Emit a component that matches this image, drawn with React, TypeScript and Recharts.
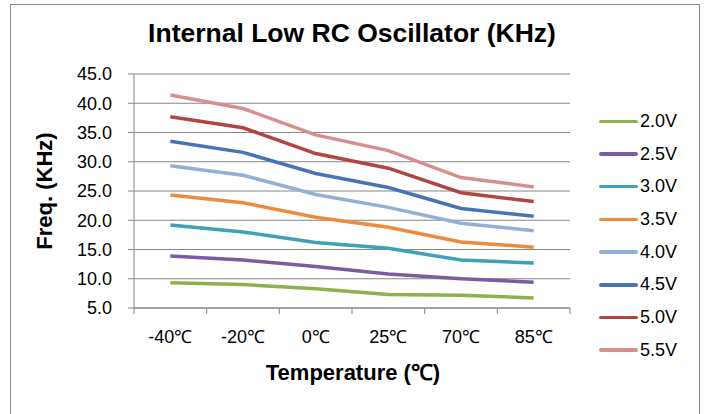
import React from 'react';
import { ComposedChart, Line, XAxis, YAxis, CartesianGrid } from 'recharts';

const temps = ['-40℃', '-20℃', '0℃', '25℃', '70℃', '85℃'];
const v20 = [9.3, 9.0, 8.3, 7.3, 7.2, 6.7];
const v25 = [13.9, 13.2, 12.1, 10.8, 10.0, 9.4];
const v30 = [19.2, 18.0, 16.2, 15.2, 13.2, 12.7];
const v35 = [24.3, 23.0, 20.5, 18.8, 16.3, 15.4];
const v40 = [29.3, 27.7, 24.4, 22.2, 19.5, 18.2];
const v45 = [33.5, 31.6, 28.0, 25.6, 22.0, 20.7];
const v50 = [37.7, 35.8, 31.4, 28.9, 24.7, 23.2];
const v55 = [41.4, 39.1, 34.6, 31.9, 27.3, 25.7];
const yTicks = [5, 10, 15, 20, 25, 30, 35, 40, 45];

const seriesDefs = [
  { key: '2.0V', values: v20, color: '#8EB04E' },
  { key: '2.5V', values: v25, color: '#7A5CA0' },
  { key: '3.0V', values: v30, color: '#3FA0B9' },
  { key: '3.5V', values: v35, color: '#EE8A3C' },
  { key: '4.0V', values: v40, color: '#93AED7' },
  { key: '4.5V', values: v45, color: '#4674B4' },
  { key: '5.0V', values: v50, color: '#B24543' },
  { key: '5.5V', values: v55, color: '#D78F8D' },
];

const data = temps.map((t, i) => {
  const row: Record<string, any> = { temp: t };
  seriesDefs.forEach((s) => {
    row[s.key] = s.values[i];
  });
  return row;
});

const FONT = '"Liberation Sans", Arial, sans-serif';
const GRID = '#868686';

const XTick = (props: any) => {
  const { x, y, payload, index, width } = props;
  const off = payload && payload.offset ? payload.offset : (width || 0) / (2 * temps.length);
  return (
    <g>
      <line x1={x - off} x2={x - off} y1={y} y2={y + 6} stroke={GRID} strokeWidth={1} />
      {index === temps.length - 1 && (
        <line x1={x + off} x2={x + off} y1={y} y2={y + 6} stroke={GRID} strokeWidth={1} />
      )}
      <text x={x} y={y + 35} textAnchor="middle" fontSize={18} fill="#000" fontFamily={FONT}>
        {payload.value}
      </text>
    </g>
  );
};

const LegendBox = () => (
  <div style={{ position: 'absolute', left: 599, top: 105, width: 100 }}>
    {seriesDefs.map((s) => (
      <div key={s.key} style={{ display: 'flex', alignItems: 'center', height: 32.7 }}>
        <div style={{ width: 39, height: 3.5, background: s.color, borderRadius: 2 }} />
        <span style={{ marginLeft: 2, fontFamily: FONT, fontSize: 18, color: '#000' }}>{s.key}</span>
      </div>
    ))}
  </div>
);

export default function App() {
  return (
    <div style={{ position: 'absolute', left: 0, top: 0, width: 704, height: 414, background: '#fff', overflow: 'hidden' }}>
      <div
        style={{
          position: 'absolute',
          left: 10,
          top: 4,
          width: 690,
          height: 420,
          border: '1.5px solid #8a8a8a',
          boxSizing: 'border-box',
        }}
      />
      <div
        style={{
          position: 'absolute',
          left: 0,
          width: 704,
          top: 17,
          textAlign: 'center',
          fontFamily: FONT,
          fontWeight: 'bold',
          fontSize: 26.5,
          lineHeight: '32px',
          color: '#000',
        }}
      >
        Internal Low RC Oscillator (KHz)
      </div>
      <div style={{ position: 'absolute', left: 0, top: 0 }}>
        <ComposedChart
          width={704}
          height={414}
          data={data}
          margin={{ top: 74, right: 134, bottom: 66, left: 74 }}
        >
          <CartesianGrid horizontal vertical={false} stroke={GRID} strokeWidth={1} />
          <XAxis
            dataKey="temp"
            scale="band"
            height={40}
            axisLine={{ stroke: GRID, strokeWidth: 1 }}
            tickLine={false}
            tickSize={0}
            tickMargin={0}
            tick={<XTick />}
            interval={0}
          />
          <YAxis
            domain={[5, 45]}
            ticks={yTicks}
            width={60}
            tickFormatter={(v: number) => v.toFixed(1)}
            axisLine={{ stroke: GRID, strokeWidth: 1 }}
            tickLine={{ stroke: GRID, strokeWidth: 1 }}
            tickSize={6}
            tickMargin={16}
            tick={{ fontSize: 18, fill: '#000', fontFamily: FONT }}
            allowDataOverflow
          />
          {seriesDefs.map((s) => (
            <Line
              key={s.key}
              type="linear"
              dataKey={s.key}
              stroke={s.color}
              strokeWidth={3.5}
              dot={false}
              activeDot={false}
              isAnimationActive={false}
            />
          ))}
        </ComposedChart>
      </div>
      <LegendBox />
      <div
        style={{
          position: 'absolute',
          left: 45,
          top: 191,
          transform: 'translate(-50%, -50%) rotate(-90deg)',
          fontFamily: FONT,
          fontWeight: 'bold',
          fontSize: 22,
          whiteSpace: 'nowrap',
          color: '#000',
        }}
      >
        Freq. (KHz)
      </div>
      <div
        style={{
          position: 'absolute',
          left: 353,
          top: 371,
          transform: 'translate(-50%, -50%)',
          fontFamily: FONT,
          fontWeight: 'bold',
          fontSize: 22,
          whiteSpace: 'nowrap',
          color: '#000',
        }}
      >
        Temperature (℃)
      </div>
    </div>
  );
}
